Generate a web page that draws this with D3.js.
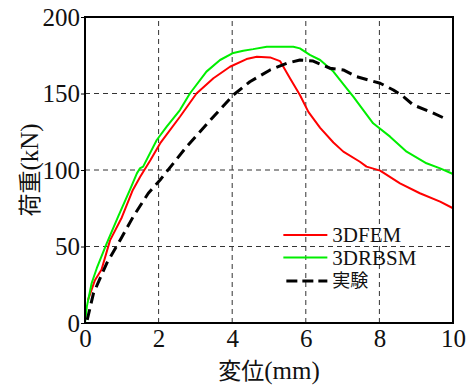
<!DOCTYPE html>
<html>
<head>
<meta charset="utf-8">
<script src="https://cdn.jsdelivr.net/npm/d3@7"></script>
</head>
<body style="margin:0; background:#fff">
<div id="chart"></div>
<script>
const width = 469;
const height = 387;

// 3DFEM [disp (mm), load (kN)]
const fem = [
  [0.08, 15], [0.27, 28], [0.45, 35], [0.68, 54], [1.0, 69], [1.3, 87], [1.5, 95.6],
  [1.78, 106.5], [2.04, 117.4], [2.58, 134.8], [3.03, 150], [3.49, 160], [3.94, 167.5],
  [4.39, 172.5], [4.67, 174], [5.03, 173.6], [5.3, 171.2], [5.57, 160], [5.84, 149],
  [6.07, 138], [6.39, 127.5], [6.75, 118], [7.02, 112], [7.47, 105.4], [7.65, 102.2],
  [8.02, 99.6], [8.56, 91.3], [9.1, 84.8], [9.65, 79.3], [10, 75]
];

// 3DRBSM
const rbsm = [
  [0, 0], [0.05, 10.7], [0.18, 26], [0.32, 35.8], [0.59, 52], [0.9, 69.5], [1.22, 87],
  [1.41, 97.8], [1.49, 101], [1.58, 102.2], [1.95, 119.6], [2.22, 128.3], [2.58, 139.2],
  [2.85, 150], [3.3, 164.3], [3.67, 171.9], [4.03, 176.5], [4.3, 178], [4.57, 179],
  [4.94, 180.6], [5.3, 180.6], [5.66, 180.6], [5.84, 179.5], [6.11, 175.2], [6.39, 171.9],
  [6.75, 164.3], [7.11, 153.4], [7.29, 148], [7.83, 130.5], [8.29, 121.8], [8.74, 112],
  [9.28, 104.4], [9.65, 101.1], [10, 97.4]
];

// 実験
const test = [
  [0.06, 2], [0.23, 19.4], [0.59, 39], [0.95, 54], [1.31, 69.5], [1.72, 84.8],
  [2.04, 93.5], [2.76, 115.2], [3.49, 134.8], [4.03, 149], [4.48, 157.7], [5.03, 165.4],
  [5.48, 169.7], [5.84, 171.9], [6.2, 171.2], [6.66, 166.5], [7.02, 165.4], [7.38, 161],
  [8.02, 156.7], [8.38, 152.3], [8.65, 148], [8.92, 142.5], [9.38, 138.1], [9.87, 132.7]
];

const xTicks = [0, 2, 4, 6, 8, 10];
const yTicks = [0, 50, 100, 150, 200];

const series = [
  { name: '3DFEM', values: fem, color: '#ff0000', width: 2, dash: null },
  { name: '3DRBSM', values: rbsm, color: '#00ee00', width: 2, dash: null },
  { name: '実験', values: test, color: '#000', width: 3, dash: '11,6' }
];

const serif = '"Liberation Serif"';
const cjk = '"Noto Sans CJK JP"';

const margin = { top: 17, right: 16, bottom: 64, left: 85 };

const svg = d3.select('#chart')
  .append('svg')
  .attr('width', width)
  .attr('height', height);

const x = d3.scaleLinear().domain([0, 10]).range([margin.left, width - margin.right]);
const y = d3.scaleLinear().domain([0, 200]).range([height - margin.bottom, margin.top]);

// gridlines
const grid = svg.append('g').attr('class', 'grid');
grid.selectAll('line.vx')
  .data(xTicks.slice(1, -1))
  .join('line')
  .attr('x1', d => x(d)).attr('x2', d => x(d))
  .attr('y1', y(0)).attr('y2', y(200))
  .attr('stroke', '#333').attr('stroke-width', 1).attr('stroke-dasharray', '5,4');
grid.selectAll('line.hy')
  .data(yTicks.slice(1, -1))
  .join('line')
  .attr('x1', x(0)).attr('x2', x(10))
  .attr('y1', d => y(d)).attr('y2', d => y(d))
  .attr('stroke', '#333').attr('stroke-width', 1).attr('stroke-dasharray', '5,4');

// axes
const xAxis = d3.axisBottom(x).tickValues(xTicks).tickSize(0).tickPadding(6);
const yAxis = d3.axisLeft(y).tickValues(yTicks).tickSize(4).tickPadding(1);

const gx = svg.append('g')
  .attr('transform', `translate(0, ${y(0)})`)
  .call(xAxis);
const gy = svg.append('g')
  .attr('transform', `translate(${x(0)}, 0)`)
  .call(yAxis);
[gx, gy].forEach(g => {
  g.attr('font-family', null).attr('font-size', null);
  g.select('.domain').remove();
  g.selectAll('.tick line').attr('stroke', '#000');
  g.selectAll('text')
    .style('font-family', serif)
    .style('font-size', '25px')
    .attr('fill', '#111');
});

// lines
const line = d3.line().x(d => x(d[0])).y(d => y(d[1]));
svg.append('g')
  .selectAll('path')
  .data(series)
  .join('path')
  .attr('d', d => line(d.values))
  .attr('fill', 'none')
  .attr('stroke', d => d.color)
  .attr('stroke-width', d => d.width)
  .attr('stroke-dasharray', d => d.dash)
  .attr('stroke-linejoin', 'round');

// frame
svg.append('rect')
  .attr('x', x(0)).attr('y', y(200))
  .attr('width', x(10) - x(0)).attr('height', y(0) - y(200))
  .attr('fill', 'none').attr('stroke', '#000').attr('stroke-width', 2);

// legend
const legend = svg.append('g').attr('transform', `translate(${x(5.39)}, ${y(57.5)})`);
const rows = legend.selectAll('g')
  .data(series)
  .join('g')
  .attr('transform', (d, i) => `translate(0, ${i * 22.5 + (i === 2 ? 1 : 0)})`);
rows.append('line')
  .attr('x1', d => d.dash ? 3 : 0).attr('x2', 44)
  .attr('stroke', d => d.color)
  .attr('stroke-width', d => d.width)
  .attr('stroke-dasharray', d => d.dash ? '11,5' : null);
rows.append('text')
  .attr('x', 49).attr('dy', '0.35em')
  .style('font-family', d => /^[\x00-\x7f]+$/.test(d.name) ? serif : cjk)
  .style('font-size', d => /^[\x00-\x7f]+$/.test(d.name) ? '21px' : '18px')
  .attr('fill', '#111')
  .text(d => d.name);

// axis titles: CJK part + latin unit part
function title(sel, cjkText, unit) {
  sel.append('tspan').style('font-family', cjk).text(cjkText);
  sel.append('tspan').style('font-family', serif).style('font-size', '25px').text(unit);
}

svg.append('text')
  .attr('x', (x(0) + x(10)) / 2)
  .attr('y', 379)
  .attr('text-anchor', 'middle')
  .style('font-size', '23px')
  .attr('fill', '#111')
  .call(title, '変位', '(mm)');

svg.append('text')
  .attr('transform', `translate(38, ${(y(0) + y(200)) / 2}) rotate(-90)`)
  .attr('text-anchor', 'middle')
  .style('font-size', '23px')
  .attr('fill', '#111')
  .call(title, '荷重', '(kN)');
</script>
</body>
</html>
